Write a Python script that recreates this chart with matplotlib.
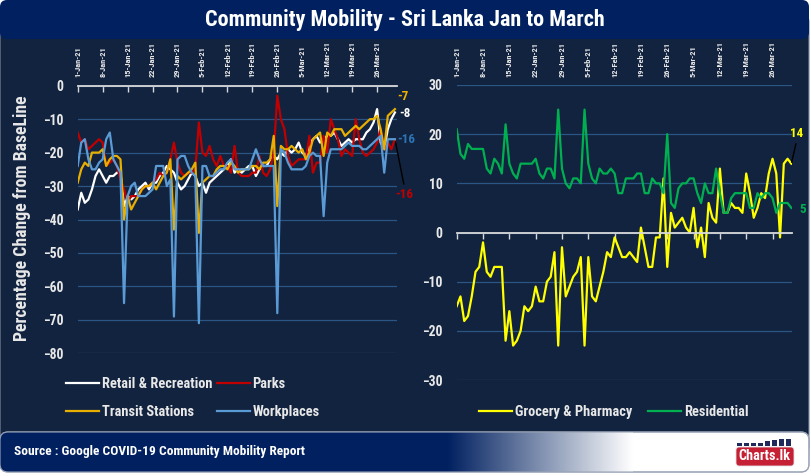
import matplotlib
matplotlib.use("Agg")
import matplotlib.pyplot as plt
import matplotlib.dates as mdates
from matplotlib import font_manager as fm
import numpy as np
import pandas as pd
from matplotlib.patches import FancyBboxPatch, Rectangle

# pick a narrow font if one is installed
entries = [(f.name, f.stretch) for f in fm.fontManager.ttflist]
family, stretch = 'DejaVu Sans', 'normal'
for cand in ['Liberation Sans Narrow', 'Roboto Condensed', 'Open Sans Condensed',
             'Noto Sans Condensed', 'DejaVu Sans Condensed']:
    if any(n == cand for n, s in entries):
        family = cand
        break
else:
    for cand in ['DejaVu Sans', 'Noto Sans', 'Open Sans', 'Roboto']:
        st = [s for n, s in entries if n == cand and 'condensed' in str(s)]
        if st:
            family, stretch = cand, st[0]
            break
plt.rcParams['font.family'] = [family, 'DejaVu Sans']
plt.rcParams['font.stretch'] = stretch
plt.rcParams['font.weight'] = 'bold'

# daily data, 1-Jan-21 .. 31-Mar-21
dates = pd.date_range("2021-01-01", "2021-03-31", freq="D")

retail = [-37, -32, -35, -34, -31, -27, -25, -27, -29, -27,
          -27, -26, -26, -36, -33, -34, -33, -31, -30, -29,
          -31, -29, -29, -27, -26, -24, -25, -26, -29, -31,
          -30, -28, -26, -27, -30, -29, -32, -29, -28, -27,
          -26, -25, -24, -22, -26, -25, -26, -25, -24, -24,
          -27, -25, -24, -24, -22, -21, -22, -20, -21, -19,
          -20, -19, -17, -20, -21, -18, -16, -15, -17, -16,
          -15, -15, -14, -16, -18, -17, -16, -17, -16, -16,
          -16, -14, -13, -11, -7, -17, -19, -13, -10, -8]

parks = [-14, -17, -16, -19, -18, -17, -16, -17, -24, -23,
         -22, -24, -28, -31, -35, -33, -33, -33, -31, -30,
         -30, -29, -28, -26, -27, -26, -22, -17, -23, -26,
         -27, -26, -26, -25, -11, -20, -21, -18, -22, -24,
         -21, -24, -24, -26, -18, -26, -27, -27, -27, -26,
         -26, -21, -26, -27, -25, -20, -3, -10, -13, -21,
         -24, -23, -22, -22, -22, -15, -26, -23, -23, -15,
         -20, -10, -13, -16, -21, -19, -20, -21, -10, -16,
         -20, -21, -20, -19, -17, -13, -19, -17, -19, -16]

transit = [-29, -25, -23, -24, -20, -20, -20, -19, -24, -22,
           -21, -21, -22, -40, -33, -37, -35, -33, -31, -30,
           -30, -29, -31, -29, -27, -26, -22, -43, -27, -28,
           -27, -26, -25, -23, -44, -29, -28, -27, -27, -25,
           -24, -24, -25, -23, -24, -26, -25, -25, -25, -24,
           -24, -25, -23, -23, -22, -15, -36, -18, -19, -19,
           -18, -19, -20, -19, -22, -20, -16, -15, -14, -21,
           -14, -15, -13, -13, -13, -15, -14, -13, -12, -13,
           -12, -11, -10, -10, -9, -13, -19, -9, -8, -7]

workplaces = [-24, -17, -16, -22, -25, -25, -23, -22, -16, -14,
              -22, -24, -26, -65, -33, -30, -29, -33, -33, -33,
              -32, -31, -24, -24, -24, -30, -28, -69, -22, -21,
              -21, -24, -26, -27, -71, -24, -24, -27, -27, -26,
              -25, -25, -23, -22, -25, -25, -25, -25, -25, -22,
              -19, -22, -24, -24, -24, -24, -68, -19, -20, -23,
              -25, -25, -25, -25, -24, -21, -20, -21, -21, -39,
              -23, -19, -19, -19, -19, -18, -17, -18, -18, -18,
              -19, -19, -18, -17, -16, -15, -26, -16, -16, -16]

grocery = [-15, -13, -18, -17, -13, -8, -7, -2, -8, -9,
           -7, -7, -7, -22, -16, -23, -22, -20, -15, -16,
           -15, -11, -14, -14, -10, -9, -4, -23, -3, -13,
           -11, -9, -8, -5, -23, -5, -13, -14, -11, -8,
           -4, -5, -1, -3, -5, -5, -4, -5, -6, 1,
           -3, -7, -7, -1, -1, 11, -7, 4, 1, 2,
           3, 1, 0, 5, -3, 1, -5, 6, 3, 2,
           13, 4, 4, 6, 5, 5, 4, 12, 8, 3,
           5, 8, 7, 12, 15, 12, -1, 14, 15, 14]

residential = [21, 16, 15, 18, 17, 17, 17, 17, 13, 12,
               15, 14, 12, 22, 14, 12, 11, 14, 14, 14,
               14, 15, 12, 11, 13, 13, 11, 25, 13, 10,
               9, 11, 11, 10, 25, 14, 11, 10, 13, 12,
               12, 13, 12, 8, 8, 11, 11, 11, 12, 12,
               8, 8, 11, 10, 10, 8, 20, 6, 5, 9,
               10, 10, 11, 11, 8, 6, 10, 8, 8, 13,
               8, 4, 4, 7, 8, 8, 8, 8, 5, 5,
               8, 7, 8, 8, 7, 4, 6, 6, 6, 5]

W, H = 811, 476
fig = plt.figure(figsize=(W / 100, H / 100), dpi=100)
fig.patch.set_facecolor('white')
renderer = fig.canvas.get_renderer()


def fit_size(text, target_px):
    # font size (pt) that makes text about target_px wide
    t = fig.text(0, 0, text, fontsize=10, fontweight='bold')
    w = t.get_window_extent(renderer).width
    t.remove()
    return 10 * target_px / w


fs_title = fit_size("Community Mobility - Sri Lanka Jan to March", 400)
fs_source = fit_size("Source : Google COVID-19 Community Mobility Report", 290)
fs_leg = fit_size("Retail & Recreation", 110)
fs_ytick = fit_size("-80", 19)
fs_date = fit_size("29-Jan-21", 35)
fs_end = fit_size("-16", 18)
fs_ylab = fit_size("Percentage Change from BaseLine", 245)
fs_logo = fit_size("Charts.lk", 52)

# ---- background decorations (pixel coords) ----
bg = fig.add_axes([0, 0, 1, 1], zorder=-10)
bg.axis('off')

panel_col = '#12233F'
navy = '#002060'
bg.add_patch(FancyBboxPatch((0, 14), 809, 440, boxstyle="round,pad=0,rounding_size=8",
                            fc=panel_col, ec='#7f8aa0', lw=0.8, zorder=1))
bg.add_patch(FancyBboxPatch((0, 0), 809, 39, boxstyle="round,pad=0,rounding_size=7",
                            fc=navy, ec='none', zorder=2))
bg.text(405, 20, "Community Mobility - Sri Lanka Jan to March", color='white',
        fontsize=fs_title, fontweight='bold', ha='center', va='center', zorder=3)

# bottom bar: navy on the left, fading to white
bg.add_patch(FancyBboxPatch((0, 432), 809, 40, boxstyle="round,pad=0,rounding_size=8",
                            fc='white', ec='#9aa3b5', lw=0.8, zorder=2))
bg.add_patch(FancyBboxPatch((0, 432), 460, 40, boxstyle="round,pad=0,rounding_size=8",
                            fc=navy, ec='none', zorder=3))
xs = np.linspace(447, 633, 200)
t = ((xs - 447) / (633 - 447))[:, None]
c0 = np.array([0, 32, 96]) / 255
grad = (c0 * (1 - t) + t)[None, :, :]
bg.imshow(grad, extent=(447, 633, 472, 432), aspect='auto', zorder=4,
          interpolation='bilinear')
bg.add_patch(FancyBboxPatch((0, 432), 809, 40, boxstyle="round,pad=0,rounding_size=8",
                            fc='none', ec='#9aa3b5', lw=0.8, zorder=5))
bg.text(14, 452, "Source : Google COVID-19 Community Mobility Report", color='white',
        fontsize=fs_source, fontweight='bold', ha='left', va='center', zorder=6)

# logo
bg.add_patch(FancyBboxPatch((736, 447), 58, 19, boxstyle="round,pad=0,rounding_size=3",
                            fc='#C62035', ec='#e0e0e0', lw=0.6, zorder=6))
bg.text(764, 456.5, "Charts.lk", color='white', fontsize=fs_logo, fontweight='bold',
        ha='center', va='center', zorder=7)
for bx, bh in zip([737, 744, 751, 758, 765, 772, 779, 786], [3, 3, 3, 3, 5, 6, 7, 7]):
    bg.add_patch(Rectangle((bx, 446 - bh), 4.5, bh, fc='#1f2a5a', ec='none', zorder=6))
bg.set_xlim(0, W)
bg.set_ylim(H, 0)

grid_col = '#2A5686'
axis_col = '#D9D9D9'
txt_col = '#E8E8E8'


def date_label(v, p):
    d = mdates.num2date(v)
    return f"{d.day}-{d:%b-%y}"


def style_axis(ax, yticks, xmax):
    ax.set_facecolor('none')
    ax.set_xlim(dates[0], dates[0] + pd.Timedelta(days=xmax))
    ax.set_yticks(yticks)
    ax.yaxis.grid(True, color=grid_col, lw=0.9)
    ax.set_axisbelow(True)
    for s in ['left', 'right', 'top']:
        ax.spines[s].set_visible(False)
    ax.spines['bottom'].set_position(('data', 0))
    ax.spines['bottom'].set_color(axis_col)
    ax.spines['bottom'].set_linewidth(1.3)
    ax.set_xticks(dates[::7])
    ax.xaxis.set_major_formatter(matplotlib.ticker.FuncFormatter(date_label))
    ax.tick_params(axis='x', bottom=True, top=False, labelbottom=False, labeltop=True,
                   direction='out', length=4, width=1, color=axis_col,
                   labelrotation=90, labelsize=fs_date, labelcolor=txt_col, pad=2)
    ax.tick_params(axis='y', length=0, labelsize=fs_ytick, labelcolor=txt_col, pad=10)


hl = 33 / (fs_leg * 100 / 72)

# ---- left chart ----
ax1 = fig.add_axes([77.7 / W, 1 - 353.3 / H, (396.7 - 77.7) / W, (353.3 - 85.7) / H])
l_ret, = ax1.plot(dates, retail, color='#FFFFFF', lw=1.6, label='Retail & Recreation')
l_par, = ax1.plot(dates, parks, color='#C00000', lw=1.6, label='Parks')
l_tra, = ax1.plot(dates, transit, color='#E8AE00', lw=1.6, label='Transit Stations')
l_wor, = ax1.plot(dates, workplaces, color='#5B9BD5', lw=1.6, label='Workplaces')
ax1.set_ylim(-80, 0)
style_axis(ax1, range(-80, 1, 10), 89.5)
fig.text(22 / W, 1 - 218 / H, "Percentage Change from BaseLine", color=txt_col,
         fontsize=fs_ylab, fontweight='bold', rotation=90, ha='center', va='center')

ax1.annotate(f"{transit[-1]}", xy=(dates[-1], transit[-1]), xytext=(2, 9),
             textcoords='offset points', color='#F0B400', fontsize=fs_end,
             ha='left', va='center', annotation_clip=False)
ax1.annotate(f"{retail[-1]}", xy=(dates[-1], retail[-1]), xytext=(3, -1),
             textcoords='offset points', color='white', fontsize=fs_end,
             ha='left', va='center', annotation_clip=False)
ax1.annotate(f"{workplaces[-1]}", xy=(dates[-1], workplaces[-1]), xytext=(2, 0),
             textcoords='offset points', color='#2E75B6', fontsize=fs_end,
             ha='left', va='center', annotation_clip=False)
ax1.annotate(f"{parks[-1]}", xy=(dates[-1], parks[-1]), xytext=(7, -40),
             textcoords='offset points', color='#C00000', fontsize=fs_end,
             ha='center', va='center', annotation_clip=False,
             arrowprops=dict(arrowstyle='-', color='black', lw=1, shrinkA=1, shrinkB=2,
                             relpos=(0.5, 1)))

leg1 = fig.legend([l_ret, l_tra, l_par, l_wor],
                  ['Retail & Recreation', 'Transit Stations', 'Parks', 'Workplaces'],
                  ncol=2, loc='upper left', bbox_to_anchor=(66 / W, 1 - 377 / H),
                  frameon=False, fontsize=fs_leg, handlelength=hl, handletextpad=0.2,
                  columnspacing=0.3, labelspacing=1.0, borderpad=0, borderaxespad=0)
for t_ in leg1.get_texts():
    t_.set_color(txt_col)

# ---- right chart ----
ax2 = fig.add_axes([456.7 / W, 1 - 380 / H, (791.7 - 456.7) / W, (380 - 85) / H])
l_gro, = ax2.plot(dates, grocery, color='#FFFF00', lw=1.6, label='Grocery & Pharmacy')
l_res, = ax2.plot(dates, residential, color='#00B050', lw=1.6, label='Residential')
ax2.set_ylim(-30, 30)
style_axis(ax2, range(-30, 31, 10), 89.1)

ax2.annotate(f"{grocery[-1]}", xy=(dates[-1], grocery[-1]), xytext=(4, 22),
             textcoords='offset points', color='#FFFF00', fontsize=fs_end,
             ha='center', va='center', annotation_clip=False,
             arrowprops=dict(arrowstyle='-', color='black', lw=1, shrinkA=1, shrinkB=1,
                             relpos=(0.5, 0)))
ax2.annotate(f"{residential[-1]}", xy=(dates[-1], residential[-1]), xytext=(6, -1),
             textcoords='offset points', color='#00B050', fontsize=fs_end,
             ha='left', va='center', annotation_clip=False)

leg2 = fig.legend([l_gro, l_res], ['Grocery & Pharmacy', 'Residential'],
                  ncol=2, loc='upper left', bbox_to_anchor=(479 / W, 1 - 405 / H),
                  frameon=False, fontsize=fs_leg, handlelength=hl, handletextpad=0.2,
                  columnspacing=1.1, borderpad=0, borderaxespad=0)
for t_ in leg2.get_texts():
    t_.set_color(txt_col)

fig.savefig("out.png", dpi=100, facecolor=fig.get_facecolor())
